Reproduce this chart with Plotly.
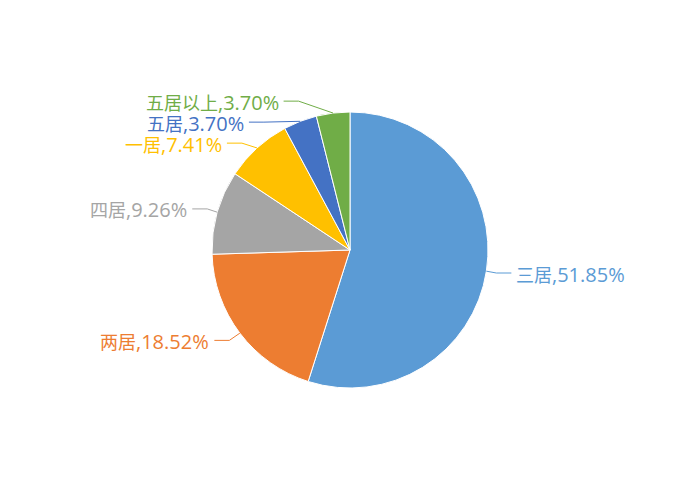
import math
import plotly.graph_objects as go

# room types and their share (%) as printed on the chart
labels = ["三居", "两居", "四居", "一居", "五居", "五居以上"]
shares = [51.85, 18.52, 9.26, 7.41, 3.70, 3.70]
colors = ["#5B9BD5", "#ED7D31", "#A5A5A5", "#FFC000", "#4472C4", "#70AD47"]

W, H = 700, 500
top, bottom = 112, 112
cx = W / 2
plot_h = H - top - bottom
cy = top + plot_h / 2
r = min(W, plot_h) / 2

fig = go.Figure(go.Pie(
    labels=labels, values=shares, sort=False, direction="clockwise", rotation=0,
    marker=dict(colors=colors, line=dict(color="white", width=1)),
    textinfo="none", hoverinfo="label+value", showlegend=False,
))

# leader lines + labels, placed from the slice angles
R1, R2, len2, min_gap = r + 12, r + 25, 15, 21
total = sum(shares)
items = []
acc = 0
for name, v, c in zip(labels, shares, colors):
    mid = (acc + v / 2) / total
    acc += v
    th = math.radians(90 - 360 * mid)
    side = 1 if math.cos(th) >= 0 else -1
    p0 = (cx + r * math.cos(th), cy - r * math.sin(th))
    items.append(dict(name=name, v=v, c=c, side=side, p0=p0, y=cy - R1 * math.sin(th)))

for side in (1, -1):
    group = sorted([it for it in items if it["side"] == side], key=lambda it: it["y"])
    for a, b in zip(group, group[1:]):
        if b["y"] - a["y"] < min_gap:
            b["y"] = a["y"] + min_gap

def px(x):
    return x / W

def py(y):
    return (H - bottom - y) / plot_h

for it in items:
    s = it["side"]
    y = it["y"]
    dy = y - cy
    x2 = cx + s * math.sqrt(max(R2 ** 2 - dy ** 2, 0))
    x1 = x2 - s * len2
    x0, y0 = it["p0"]
    fig.add_shape(type="path", xref="paper", yref="paper",
                  path=f"M {px(x0)},{py(y0)} L {px(x1)},{py(y)} L {px(x2)},{py(y)}",
                  line=dict(color=it["c"], width=1))
    txt = f"<span style='font-size:18px'>{it['name']}</span>,{it['v']:.2f}%"
    fig.add_annotation(x=px(x2 + s * 3), y=py(y + 1), xref="paper", yref="paper",
                       text=txt, showarrow=False,
                       xanchor="left" if s > 0 else "right", yanchor="middle",
                       font=dict(color=it["c"], size=20))

fig.update_layout(width=W, height=H, margin=dict(l=0, r=0, t=top, b=bottom),
                  paper_bgcolor="white", plot_bgcolor="white",
                  font=dict(family="Open Sans, Noto Sans CJK SC, sans-serif"))
# drop the browser's default 8px body margin so the figure sits at the page corner
fig.write_html("out.html", config={"displayModeBar": False},
               post_script="document.body.style.margin='0';")
